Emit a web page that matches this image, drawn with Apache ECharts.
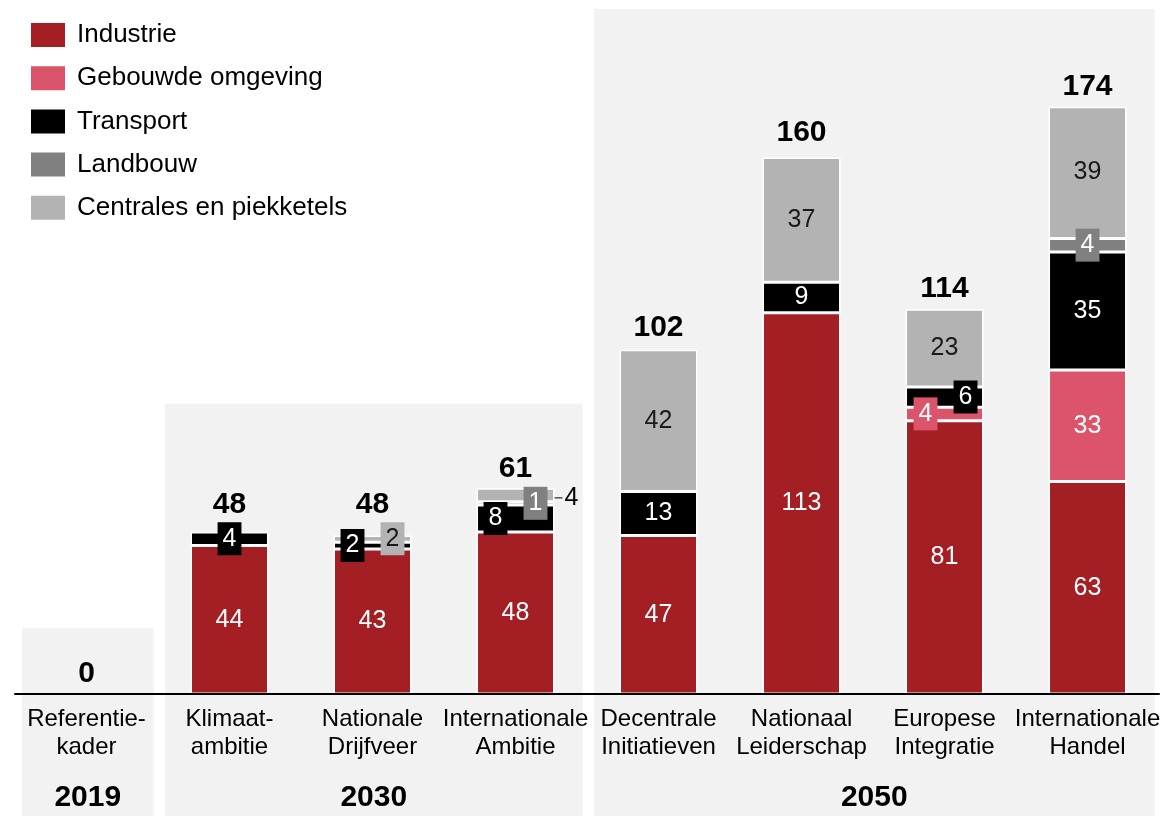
<!DOCTYPE html>
<html>
<head>
<meta charset="utf-8">
<script src="https://cdn.jsdelivr.net/npm/echarts@6/dist/echarts.min.js"></script>
<style>
html,body{margin:0;padding:0;background:#fff;}
#c{width:1163px;height:816px;}
</style>
</head>
<body>
<div id="c"></div>
<script>
const categories = ['Referentie-\nkader','Klimaat-\nambitie','Nationale\nDrijfveer','Internationale\nAmbitie','Decentrale\nInitiatieven','Nationaal\nLeiderschap','Europese\nIntegratie','Internationale\nHandel'];
const seriesNames = ['Industrie','Gebouwde omgeving','Transport','Landbouw','Centrales en piekketels'];
const industrie = [0,44,43,48,47,113,81,63];
const gebouwde  = [0,0,0,0,0,0,4,33];
const transport = [0,4,2,8,13,9,6,35];
const landbouw  = [0,0,0,1,0,0,0,4];
const centrales = [0,0,2,4,42,37,23,39];
const totals    = [0,48,48,61,102,160,114,174];
const periods   = ['2019','2030','2050'];
const periodFirst = [0,1,4];
const periodLast  = [0,3,7];

const FONT = "'Liberation Sans', Arial, sans-serif";
const colors = ['#a31f23','#dc546b','#000000','#808080','#b3b3b3'];
const textColors = ['#fff','#fff','#fff','#fff','#1a1a1a'];

function box(color, dx, dy, txt) {
  return {backgroundColor: color, padding: [4,5], offset: [dx, dy || 0], color: txt || '#fff'};
}
const special = [
  {},
  {6: box(colors[1], -19, 0)},
  {1: box(colors[2], 0, 0), 2: box(colors[2], -20, 0), 3: box(colors[2], -20, 0), 6: box(colors[2], 21, 0)},
  {3: box(colors[3], 20, 0), 7: box(colors[3], 0, 0)},
  {2: box(colors[4], 20, 0, '#1a1a1a'),
   3: {position: 'right', distance: 0, offset: [0, 3], color: '#000',
       formatter: '{l| }{v|{c}}',
       rich: {l: {width: 8, height: 1, backgroundColor: '#000', verticalAlign: 'middle'},
              v: {fontSize: 25, color: '#000', padding: [0,0,0,2], fontFamily: FONT}}}}
];
const valueArrays = [industrie, gebouwde, transport, landbouw, centrales];

const series = valueArrays.map((vals, s) => ({
  name: seriesNames[s],
  type: 'bar',
  stack: 'total',
  barWidth: 78,
  itemStyle: {color: colors[s], borderColor: '#fff', borderWidth: 1.5},
  label: {show: true, position: 'inside', color: textColors[s], fontSize: 25, fontFamily: FONT},
  data: vals.map((v, i) => {
    if (v === 0) return '-';
    const o = {value: v};
    if (special[s][i]) o.label = special[s][i];
    return o;
  })
}));

const totalDist = [4.5,11.5,11.5,3.5,6.5,5.5,5.5,5];
series.push({
  name: 'Totaal',
  type: 'scatter',
  symbolSize: 1,
  itemStyle: {color: 'rgba(0,0,0,0)', opacity: 1},
  label: {show: true, position: 'top', fontSize: 30, fontWeight: 'bold', color: '#000', opacity: 1, fontFamily: FONT},
  data: totals.map((v, i) => ({value: v, label: {distance: totalDist[i]}})),
  z: 5
});

const chart = echarts.init(document.getElementById('c'));
chart.setOption({
  animation: false,
  textStyle: {fontFamily: FONT},
  legend: {
    orient: 'vertical', left: 24, top: 16,
    itemWidth: 36, itemHeight: 26, itemGap: 15.2,
    icon: 'rect',
    data: seriesNames,
    textStyle: {fontSize: 26, color: '#000', fontFamily: FONT, padding: [0,0,0,6]},
    selectedMode: false
  },
  grid: {left: 15, right: 0, top: 19, bottom: 122, containLabel: false},
  xAxis: {
    type: 'category',
    data: categories,
    axisLine: {show: true, lineStyle: {color: '#000', width: 2}},
    axisTick: {show: false},
    axisLabel: {interval: 0, fontSize: 24, lineHeight: 28, color: '#000', margin: 11, fontFamily: FONT},
    z: 3
  },
  yAxis: {type: 'value', min: 0, max: 200, show: false, splitLine: {show: false}},
  series: series
});

const graphics = [];
const panelTopVals = [19.5, 86, 203];
periods.forEach((p, k) => {
  const xl = chart.convertToPixel({xAxisIndex: 0}, categories[periodFirst[k]]) - 64.5;
  const xr = chart.convertToPixel({xAxisIndex: 0}, categories[periodLast[k]]) + 67;
  const yt = chart.convertToPixel({yAxisIndex: 0}, panelTopVals[k]);
  graphics.push({type: 'rect', z: -10, silent: true,
    shape: {x: xl, y: yt, width: xr - xl, height: 816 - yt},
    style: {fill: '#f2f2f2'}});
  graphics.push({type: 'text', z: 10, silent: true,
    style: {text: p, x: (xl + xr) / 2, y: 798, textAlign: 'center', textVerticalAlign: 'middle',
            fontSize: 30, fontWeight: 'bold', fontFamily: FONT, fill: '#000'}});
});
chart.setOption({graphic: graphics});
</script>
</body>
</html>
